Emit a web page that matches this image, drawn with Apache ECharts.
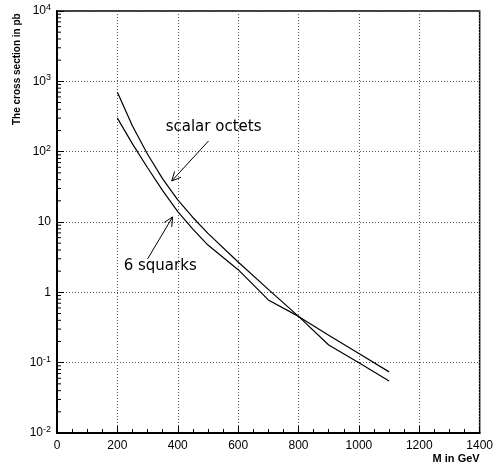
<!DOCTYPE html>
<html lang="en">
<head>
  <meta charset="UTF-8">
  <title>Cross section</title>
  <script src="https://cdn.jsdelivr.net/npm/echarts@6/dist/echarts.min.js"></script>
  <style>
    html, body { margin: 0; padding: 0; background: #fff; }
    #chart { width: 496px; height: 471px; }
  </style>
</head>
<body>
<div id="chart"></div>
<script>
  // M in GeV and cross sections in pb
  const masses       = [200, 250, 300, 350, 400, 450, 500, 600, 700, 800, 900, 1000, 1100];
  const scalarOctets = [700, 232, 92, 41, 20.7, 11.6, 6.9, 2.7, 1.1, 0.455, 0.245, 0.135, 0.074];
  const sixSquarks   = [300, 129, 59, 28, 14, 7.9, 4.7, 2.1, 0.78, 0.455, 0.178, 0.1, 0.055];

  // y tick labels as powers of ten
  const yExponents = [-2, -1, 0, 1, 2, 3, 4];

  // annotations (data coordinates): label, where the text sits, arrow tail and head
  const noteTexts  = ['scalar octets', '6 squarks'];
  const noteTextAt = [[360, 224], [221, 2.37]];
  const noteTail   = [[502, 142], [300, 2.98]];
  const noteHead   = [[380, 38.3], [383, 11.8]];

  // minor ticks of the log axis: 2..9 in every decade
  const minorValues = [];
  for (let k = -2; k < 4; k++) {
    for (let m = 2; m <= 9; m++) minorValues.push([0, m * Math.pow(10, k)]);
  }

  const font = 'Liberation Sans';
  const chart = echarts.init(document.getElementById('chart'));

  const option = {
    animation: false,
    textStyle: { fontFamily: font },
    grid: {
      left: 57, right: 16, top: 11, bottom: 38,
      show: true, borderColor: '#000', borderWidth: 1.5
    },
    graphic: [{
      type: 'text',
      x: 17, y: 125,
      rotation: Math.PI / 2,
      style: {
        text: 'The cross section in pb',
        font: 'bold 10px ' + font,
        fill: '#000',
        align: 'left',
        verticalAlign: 'middle'
      }
    }],
    xAxis: {
      type: 'value',
      min: 0, max: 1400, interval: 200,
      name: 'M in GeV',
      nameLocation: 'end',
      nameGap: 0,
      nameTextStyle: {
        fontWeight: 'bold', fontSize: 11, color: '#000',
        align: 'right', verticalAlign: 'top', padding: [20, 0, 0, 0]
      },
      axisLine: { onZero: false, lineStyle: { color: '#000', width: 2 } },
      axisTick: { inside: true, length: 7, lineStyle: { color: '#000' } },
      minorTick: { show: true, splitNumber: 4, length: 4, lineStyle: { color: '#000' } },
      axisLabel: { color: '#000', fontSize: 12, margin: 7, formatter: v => String(v) },
      splitLine: { show: true, lineStyle: { color: '#555', type: [1, 2], width: 1 } }
    },
    yAxis: {
      type: 'log',
      logBase: 10,
      min: 0.01, max: 10000, interval: 1,
      axisLine: { lineStyle: { color: '#000', width: 2 } },
      axisTick: { inside: true, length: 7, lineStyle: { color: '#000' } },
      axisLabel: {
        color: '#000', fontSize: 12, margin: 6,
        formatter: function (v) {
          const e = Math.round(Math.log10(v));
          if (yExponents.indexOf(e) < 0) return '';
          if (e === 0) return '1';
          if (e === 1) return '10';
          return '10{sup|' + e + '}';
        },
        rich: {
          sup: { fontSize: 9, verticalAlign: 'top', padding: [0, 0, 7, 0], color: '#000' }
        }
      },
      splitLine: { show: true, lineStyle: { color: '#555', type: [1, 2], width: 1 } }
    },
    series: [
      {
        name: 'scalar octets',
        type: 'line',
        data: masses.map((m, i) => [m, scalarOctets[i]]),
        showSymbol: false,
        lineStyle: { color: '#000', width: 1.2 }
      },
      {
        name: '6 squarks',
        type: 'line',
        data: masses.map((m, i) => [m, sixSquarks[i]]),
        showSymbol: false,
        lineStyle: { color: '#000', width: 1.2 }
      },
      {
        // minor log ticks on the left axis
        type: 'custom',
        silent: true,
        clip: false,
        data: minorValues,
        renderItem: function (params, api) {
          const p = api.coord([api.value(0), api.value(1)]);
          return {
            type: 'line',
            shape: { x1: p[0], y1: p[1], x2: p[0] + 4, y2: p[1] },
            style: { stroke: '#000', lineWidth: 1 }
          };
        }
      },
      {
        // labels with arrows
        type: 'custom',
        silent: true,
        clip: false,
        data: noteTexts.map((t, i) => [
          noteTail[i][0], noteTail[i][1],
          noteHead[i][0], noteHead[i][1],
          noteTextAt[i][0], noteTextAt[i][1]
        ]),
        encode: { x: [0, 2, 4], y: [1, 3, 5] },
        renderItem: function (params, api) {
          const tail = api.coord([api.value(0), api.value(1)]);
          const head = api.coord([api.value(2), api.value(3)]);
          const at = api.coord([api.value(4), api.value(5)]);
          const ang = Math.atan2(head[1] - tail[1], head[0] - tail[0]);
          const len = 10, spread = 0.45;
          const w1 = [head[0] - len * Math.cos(ang - spread), head[1] - len * Math.sin(ang - spread)];
          const w2 = [head[0] - len * Math.cos(ang + spread), head[1] - len * Math.sin(ang + spread)];
          const stroke = { stroke: '#000', lineWidth: 1 };
          return {
            type: 'group',
            children: [
              { type: 'line', shape: { x1: tail[0], y1: tail[1], x2: head[0], y2: head[1] }, style: stroke },
              { type: 'polyline', shape: { points: [w1, head, w2] }, style: Object.assign({ fill: null }, stroke) },
              {
                type: 'text',
                x: at[0], y: at[1],
                style: {
                  text: noteTexts[params.dataIndex],
                  font: '15px "DejaVu Sans"',
                  fill: '#000',
                  align: 'left',
                  verticalAlign: 'middle'
                }
              }
            ]
          };
        }
      }
    ]
  };

  chart.setOption(option);
</script>
</body>
</html>
